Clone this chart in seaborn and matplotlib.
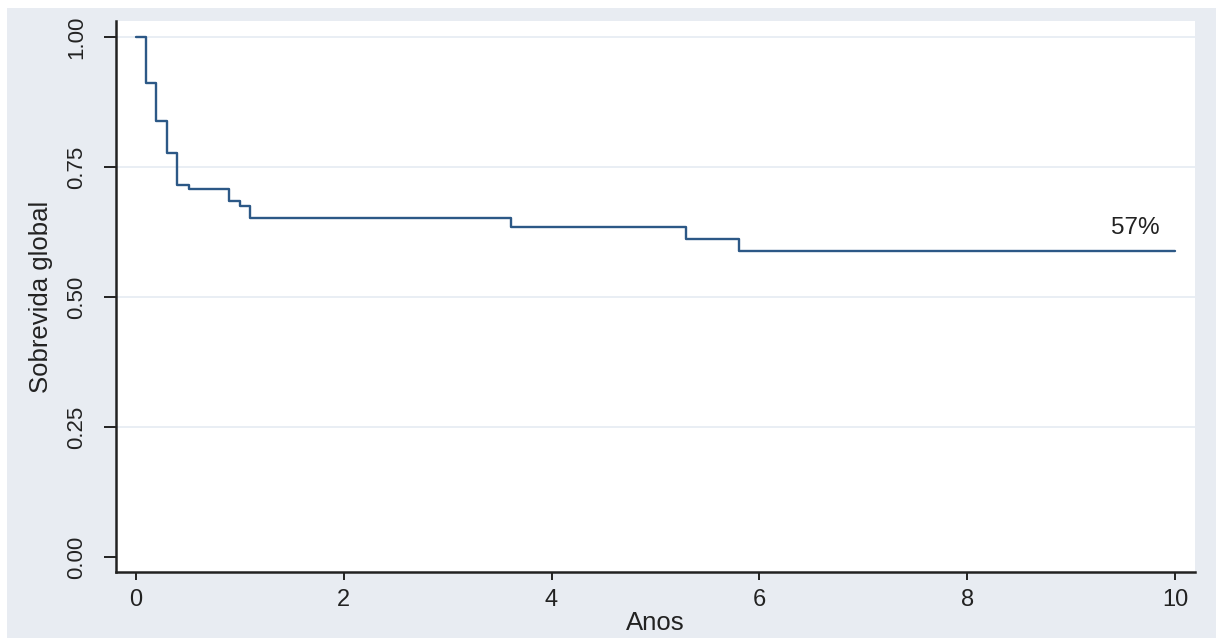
import matplotlib
matplotlib.use("Agg")
import matplotlib.pyplot as plt
from matplotlib.patches import Rectangle
import seaborn as sns
import pandas as pd

# Kaplan-Meier estimate: event times (years) and survival after each step
years = [0.0, 0.10, 0.195, 0.30, 0.40, 0.51, 0.90, 1.00, 1.10, 3.61, 5.29, 5.80, 10.0]
survival = [1.0, 0.911, 0.838, 0.777, 0.716, 0.707, 0.684, 0.676, 0.652, 0.635, 0.612, 0.589, 0.589]

x_ticks = [0, 2, 4, 6, 8, 10]
y_ticks = [0.00, 0.25, 0.50, 0.75, 1.00]
y_ticklabels = ["0.00", "0.25", "0.50", "0.75", "1.00"]
end_label = "57%"

sns.set_theme(style="white")
plt.rcParams["font.family"] = ["Liberation Sans", "DejaVu Sans"]

W, H = 1216, 638
bg = "#E8ECF2"
line_color = "#2C5886"
grid_color = "#E9EEF4"
ink = "#222222"

fig = plt.figure(figsize=(W / 100, H / 100), dpi=100, facecolor=bg)
# thin white margin on the top and left edges
fig.patches.append(Rectangle((0, 1 - 8 / H), 1, 8 / H, transform=fig.transFigure,
                             facecolor="white", edgecolor="none", zorder=-1))
fig.patches.append(Rectangle((0, 0), 7 / W, 1, transform=fig.transFigure,
                             facecolor="white", edgecolor="none", zorder=-1))

ax = fig.add_axes([116 / W, 1 - 572 / H, (1195 - 116) / W, (572 - 21) / H])
ax.set_facecolor("white")

df = pd.DataFrame({"Anos": years, "Sobrevida": survival})
sns.lineplot(data=df, x="Anos", y="Sobrevida", estimator=None, sort=True,
             drawstyle="steps-post", color=line_color, linewidth=1.7, ax=ax, zorder=3)

ax.set_xlim(-0.19, 10.19)
ax.set_ylim(-0.029, 1.031)

# horizontal grid lines at the non-zero ticks
for yv in y_ticks[1:]:
    ax.axhline(yv, color=grid_color, linewidth=1.4, zorder=1)

ax.set_xticks(x_ticks)
ax.set_xticklabels([str(v) for v in x_ticks], fontsize=17, color=ink)
ax.set_yticks(y_ticks)
ax.set_yticklabels(y_ticklabels, fontsize=16, color=ink, rotation=90, va="center")

ax.tick_params(axis="x", direction="out", length=6, width=1.4, color=ink, pad=6, bottom=True)
ax.tick_params(axis="y", direction="out", length=9, width=1.4, color=ink, pad=12, left=True)

for side in ("top", "right"):
    ax.spines[side].set_visible(False)
for side in ("left", "bottom"):
    ax.spines[side].set_color(ink)
    ax.spines[side].set_linewidth(1.8)

ax.set_xlabel("Anos", fontsize=18.5, color=ink, labelpad=0)
ax.set_ylabel("Sobrevida global", fontsize=18.5, color=ink, labelpad=9)

ax.text(9.62, 0.633, end_label, fontsize=17.5, color=ink, ha="center", va="center")

fig.savefig("out.png", dpi=100, facecolor=fig.get_facecolor())
